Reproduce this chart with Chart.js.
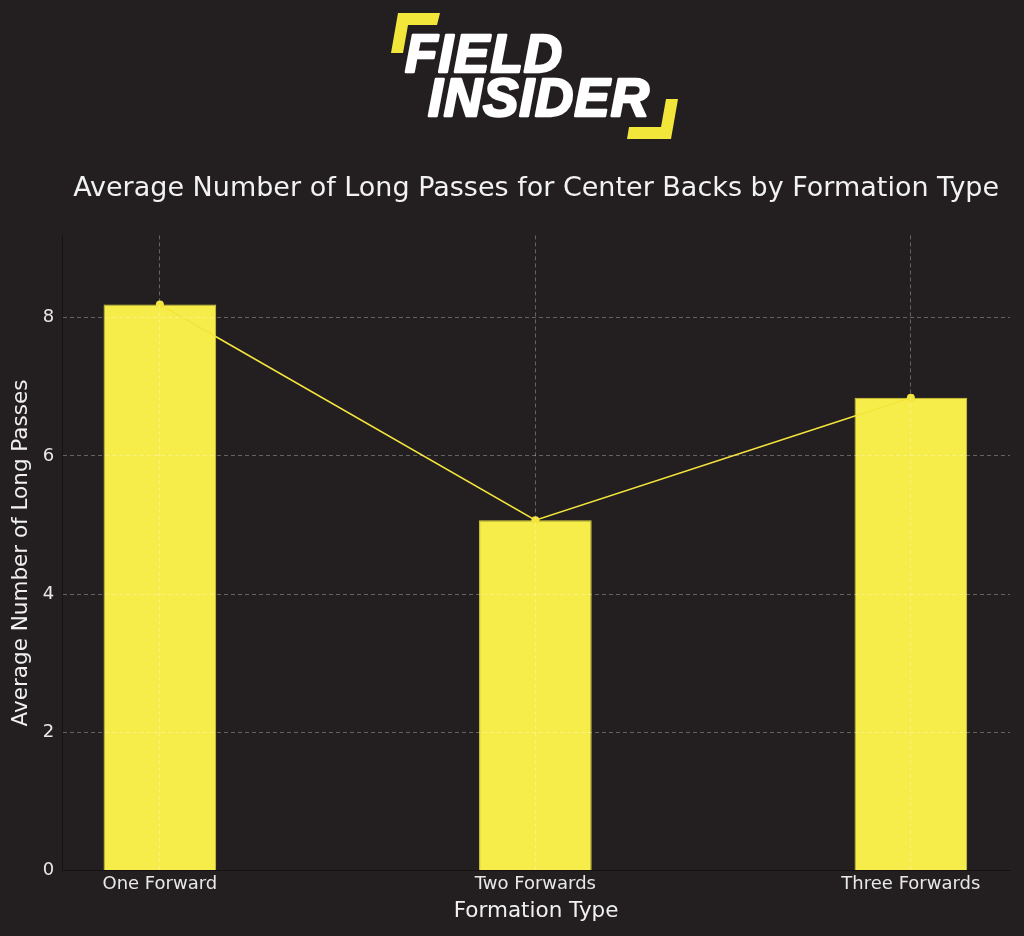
<!DOCTYPE html>
<html>
<head>
<meta charset="utf-8">
<script src="https://cdn.jsdelivr.net/npm/chart.js@4"></script>
<style>
  html, body { margin: 0; padding: 0; background: #231f20; }
  #wrap { width: 1024px; height: 936px; position: relative; }
</style>
</head>
<body>
<div id="wrap"><canvas id="c" width="1024" height="936"></canvas></div>
<script>
const categories = ['One Forward', 'Two Forwards', 'Three Forwards'];
const avgLongPasses = [8.19, 5.07, 6.84];
const yTickValues = [0, 2, 4, 6, 8];
const titleText = 'Average Number of Long Passes for Center Backs by Formation Type';
const xTitle = 'Formation Type';
const yTitle = 'Average Number of Long Passes';
const logoLines = ['FIELD', 'INSIDER'];

const YELLOW = '#f6ec4a';
const FONT = '"DejaVu Sans", sans-serif';
const GRID = 'rgba(255,255,255,0.3)';

const points = avgLongPasses.map((v, i) => ({ x: i, y: v }));

const logoPlugin = {
  id: 'logo',
  beforeDraw(chart) {
    const ctx = chart.ctx;
    ctx.save();
    ctx.fillStyle = '#f2e63a';
    ctx.beginPath();
    ctx.moveTo(398, 13); ctx.lineTo(440, 13); ctx.lineTo(437, 25);
    ctx.lineTo(408, 25); ctx.lineTo(403, 53); ctx.lineTo(391, 53);
    ctx.closePath(); ctx.fill();
    ctx.beginPath();
    ctx.moveTo(666, 99); ctx.lineTo(678, 99); ctx.lineTo(671, 139);
    ctx.lineTo(627, 139); ctx.lineTo(629, 127); ctx.lineTo(661, 127);
    ctx.closePath(); ctx.fill();
    ctx.fillStyle = '#ffffff';
    ctx.strokeStyle = '#ffffff';
    ctx.lineWidth = 2.5;
    ctx.lineJoin = 'round';
    ctx.font = 'italic bold 53px "Liberation Sans", sans-serif';
    ctx.textBaseline = 'alphabetic';
    ctx.letterSpacing = '1px';
    ctx.fillText(logoLines[0], 405, 72);
    ctx.strokeText(logoLines[0], 405, 72);
    ctx.fillText(logoLines[1], 428, 116);
    ctx.strokeText(logoLines[1], 428, 116);
    ctx.restore();
  }
};

new Chart(document.getElementById('c'), {
  data: {
    datasets: [
      {
        type: 'line',
        data: points,
        borderColor: '#f3e53c',
        backgroundColor: '#f3e53c',
        borderWidth: 1.6,
        pointRadius: 4,
        pointBorderWidth: 0,
        pointBackgroundColor: '#f3e53c',
        order: 0
      },
      {
        type: 'bar',
        data: points,
        backgroundColor: YELLOW,
        borderColor: '#d9cf3a',
        borderWidth: 1,
        barPercentage: 0.3,
        categoryPercentage: 1,
        order: 1
      }
    ]
  },
  options: {
    responsive: false,
    animation: false,
    devicePixelRatio: 1,
    layout: { padding: { top: 150, left: 1, right: 14, bottom: 0 } },
    plugins: {
      legend: { display: false },
      tooltip: { enabled: false },
      title: {
        display: true,
        text: titleText,
        fullSize: false,
        color: '#f2f2f2',
        font: { family: FONT, size: 27, weight: 'normal' },
        padding: { top: 23, bottom: 30 }
      }
    },
    scales: {
      x: {
        type: 'linear',
        min: -0.26,
        max: 2.264,
        offset: false,
        afterBuildTicks: (s) => { s.ticks = categories.map((c, i) => ({ value: i })); },
        ticks: {
          color: '#e8e8e8',
          font: { family: FONT, size: 18 },
          padding: 3,
          callback: (v) => categories[v]
        },
        grid: {
          z: 1,
          offset: false,
          color: GRID,
          lineWidth: 1,
          drawTicks: false
        },
        border: { display: true, z: 2, color: '#141213', width: 1, dash: [4, 3] },
        title: {
          display: true,
          text: xTitle,
          color: '#f0f0f0',
          font: { family: FONT, size: 21.5 },
          padding: { top: 0, bottom: 12 }
        }
      },
      y: {
        type: 'linear',
        min: 0,
        max: 9.19,
        afterBuildTicks: (s) => { s.ticks = yTickValues.map(v => ({ value: v })); },
        ticks: {
          color: '#e8e8e8',
          font: { family: FONT, size: 18 },
          padding: 8
        },
        grid: {
          z: 1,
          color: (ctx) => (ctx.tick && ctx.tick.value === 0) ? 'rgba(0,0,0,0)' : GRID,
          lineWidth: 1,
          drawTicks: false
        },
        border: { display: true, z: 2, color: '#141213', width: 1, dash: [4, 3] },
        title: {
          display: true,
          text: yTitle,
          color: '#f0f0f0',
          font: { family: FONT, size: 21.5 },
          padding: { top: 8, bottom: 0 }
        }
      }
    }
  },
  plugins: [logoPlugin]
});
</script>
</body>
</html>
